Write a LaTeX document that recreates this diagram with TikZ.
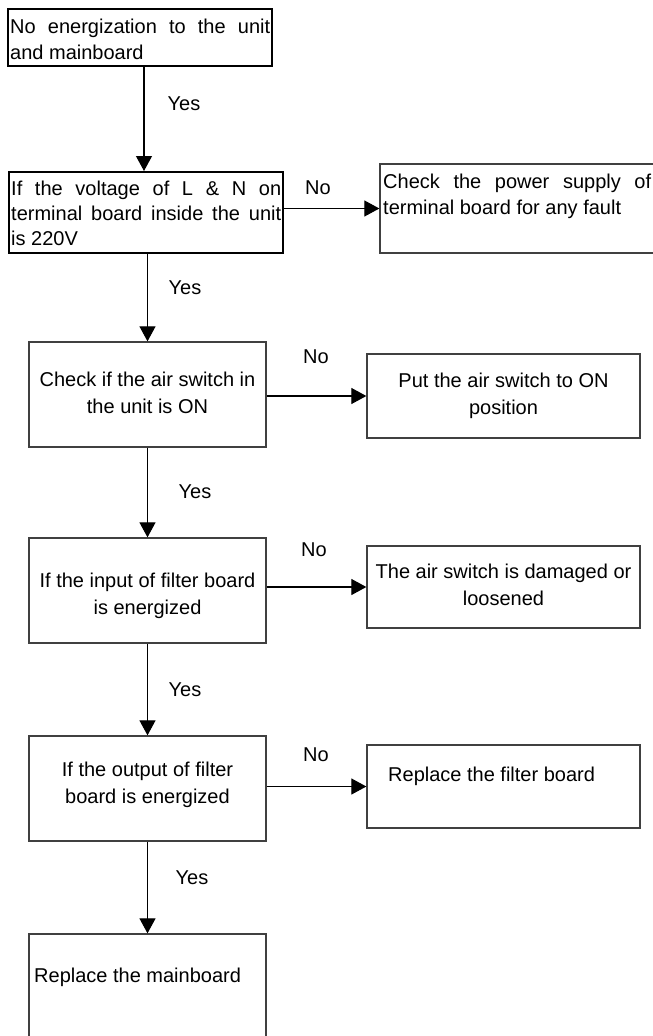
\documentclass[tikz,border=0pt]{standalone}
\usepackage{fontspec}
\setmainfont{Liberation Sans}
\usetikzlibrary{arrows.meta,fit}

\definecolor{framegray}{HTML}{404040}

\begin{document}
\begin{tikzpicture}[x=1pt,y=-1pt,
  every node/.style={font=\fontsize{20pt}{26pt}\selectfont},
  thickbox/.style={draw=black,line width=2pt,inner sep=0pt},
  thinbox/.style={draw=framegray,line width=1.3pt,inner sep=0pt},
  flow/.style={draw=black,line width=1.1pt,-{Triangle[length=15pt,width=16pt]}},
  lbl/.style={inner sep=0pt},
  ltext/.style={anchor=base west,inner sep=0pt},
  ctext/.style={align=center,inner sep=0pt,font=\fontsize{20pt}{27pt}\selectfont},
]
\useasboundingbox (0,0) rectangle (653,1036);
\clip (0,0) rectangle (653,1036);
\fill[white] (0,0) rectangle (653,1036);

% ---- boxes ----
\node[thickbox, fit={(8,9) (272,66)}] (b1) {};
\node[thickbox, fit={(9,172) (283,253)}] (b2) {};
\node[thinbox, fit={(380,164) (670,253)}] (b3) {};
\node[thinbox, fit={(29,342) (266,447)}] (b4) {};
\node[thinbox, fit={(367,354) (640,438)}] (b5) {};
\node[thinbox, fit={(29,538) (266,643)}] (b6) {};
\node[thinbox, fit={(367,546) (640,628)}] (b7) {};
\node[thinbox, fit={(29,736) (266,841)}] (b8) {};
\node[thinbox, fit={(367,745) (640,828)}] (b9) {};
\node[thinbox, fit={(29,934) (266,1050)}] (b10) {};

% ---- box texts ----
\node[ltext] (t1a) at (10,33) {\makebox[260pt][s]{No energization to the unit}};
\node[ltext] (t1b) at (10,59) {and mainboard};

\node[ltext] (t2a) at (11,195) {\makebox[270pt][s]{If the voltage of L \& N on}};
\node[ltext] (t2b) at (11,220) {\makebox[270pt][s]{terminal board inside the unit}};
\node[ltext] (t2c) at (11,245) {is 220V};

\node[ltext] (t3a) at (383,188) {\makebox[268pt][s]{Check the power supply of}};
\node[ltext] (t3b) at (383,214) {terminal board for any fault};

\node[ctext] (t4) at (147.5,393) {Check if the air switch in\\the unit is ON};
\node[ctext] (t5) at (503.5,396) {Put the air switch to ON\\position};
\node[ctext] (t6) at (147.5,596) {If the input of filter board\\is energized};
\node[ctext] (t7) at (503.5,585) {The air switch is damaged or\\loosened};
\node[ctext] (t8) at (147.5,785) {If the output of filter\\board is energized};
\node[ltext] (t9) at (388,781) {Replace the filter board};
\node[ltext] (t10) at (34,982) {Replace the mainboard};

% ---- connectors ----
\coordinate (c1) at (144,0);
\draw[flow] (b1.south -| c1) -- (b2.north -| c1);
\draw[flow] (b2.east |- b3.west) -- (b3.west);
\draw[flow] (b2.south -| b4.north) -- (b4.north);
\draw[flow] (b4.east |- b5.west) -- (b5.west);
\draw[flow] (b4.south) -- (b6.north);
\draw[flow] (b6.east |- b7.west) -- (b7.west);
\draw[flow] (b6.south) -- (b8.north);
\draw[flow] (b8.east |- b9.west) -- (b9.west);
\draw[flow] (b8.south) -- (b10.north);

% ---- branch labels ----
\node[lbl] (y1) at (184,104) {Yes};
\node[lbl] (n1) at (318,188) {No};
\node[lbl] (y2) at (185,288) {Yes};
\node[lbl] (n2) at (316,357) {No};
\node[lbl] (y3) at (195,492) {Yes};
\node[lbl] (n3) at (314,550) {No};
\node[lbl] (y4) at (185,690) {Yes};
\node[lbl] (n4) at (316,755) {No};
\node[lbl] (y5) at (192,878) {Yes};
\end{tikzpicture}
\end{document}
